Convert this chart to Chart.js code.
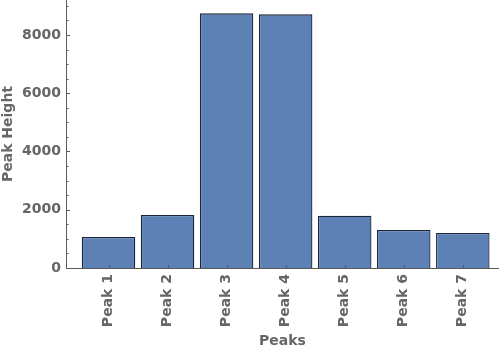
<!DOCTYPE html>
<html>
<head>
<meta charset="utf-8">
<script src="https://cdn.jsdelivr.net/npm/chart.js@4/dist/chart.umd.min.js"></script>
<style>
    html, body { margin: 0; padding: 0; background: #fff; }
    #wrap { width: 500px; height: 351px; }
</style>
</head>
<body>
<div id="wrap"><canvas id="peak-chart"></canvas></div>
<script>
var categories = ["Peak 1", "Peak 2", "Peak 3", "Peak 4", "Peak 5", "Peak 6", "Peak 7"];
var peakHeights = [1063, 1817, 8742, 8708, 1793, 1303, 1200];
var yMajorTicks = [0, 2000, 4000, 6000, 8000];
var yMinorStep = 500;

var axisColor = "#5a5a5a";
var textColor = "#666666";

// inward tick marks, drawn from the scales
var tickPlugin = {
    id: 'inwardTicks',
    afterDatasetsDraw: function (chart) {
        var ctx = chart.ctx;
        var y = chart.scales.y;
        var x = chart.scales.x;
        var area = chart.chartArea;
        ctx.save();
        ctx.strokeStyle = axisColor;
        ctx.lineWidth = 1;
        ctx.beginPath();
        for (var v = 0; v <= y.max; v += yMinorStep) {
            var py = Math.round(y.getPixelForValue(v)) + 0.5;
            var len = (yMajorTicks.indexOf(v) >= 0) ? 4 : 2.5;
            ctx.moveTo(area.left, py);
            ctx.lineTo(area.left + len, py);
        }
        for (var i = 0; i < categories.length; i++) {
            var px = Math.round(x.getPixelForValue(i + 1)) + 0.5;
            ctx.moveTo(px, area.bottom);
            ctx.lineTo(px, area.bottom - 3);
        }
        ctx.stroke();
        // axes
        ctx.beginPath();
        ctx.moveTo(area.left + 0.5, area.top);
        ctx.lineTo(area.left + 0.5, area.bottom + 0.5);
        ctx.lineTo(area.right, area.bottom + 0.5);
        ctx.stroke();
        ctx.restore();
    }
};

var points = peakHeights.map(function (val, i) {
    return { x: i + 1, y: val };
});

var ctx = document.getElementById("peak-chart").getContext('2d');
var chart = new Chart(ctx, {
    type: 'bar',
    data: {
        datasets: [{
            data: points,
            backgroundColor: "#5d81b5",
            borderColor: "#1b263a",
            borderWidth: 1.3,
            categoryPercentage: 1,
            barPercentage: 0.906
        }]
    },
    options: {
        responsive: true,
        maintainAspectRatio: false,
        animation: false,
        layout: { padding: { top: 0, right: 1, left: 0, bottom: 0 } },
        plugins: {
            legend: { display: false },
            tooltip: { enabled: false }
        },
        scales: {
            x: {
                type: 'linear',
                min: 0.28,
                max: 7.613,
                offset: false,
                grid: { display: false, drawTicks: false },
                border: { display: false },
                afterBuildTicks: function (scale) {
                    scale.ticks = categories.map(function (c, i) { return { value: i + 1 }; });
                },
                afterFit: function (scale) {
                    scale.height = 83;
                    scale.paddingLeft = 0;
                    scale.paddingRight = 0;
                },
                ticks: {
                    autoSkip: false,
                    maxRotation: 90,
                    minRotation: 90,
                    padding: 6,
                    color: textColor,
                    font: { family: "DejaVu Sans", size: 14, weight: 'bold' },
                    callback: function (value) { return categories[value - 1]; }
                },
                title: {
                    display: true,
                    text: "Peaks",
                    color: textColor,
                    padding: { top: 0, bottom: 1 },
                    font: { family: "DejaVu Sans", size: 14, weight: 'bold' }
                }
            },
            y: {
                min: 0,
                max: 9200,
                grid: { display: false, drawTicks: false },
                border: { display: false },
                afterBuildTicks: function (scale) {
                    scale.ticks = yMajorTicks.map(function (v) { return { value: v }; });
                },
                afterFit: function (scale) {
                    scale.width = 66;
                    scale.paddingTop = 0;
                    scale.paddingBottom = 0;
                },
                ticks: {
                    padding: 5,
                    color: textColor,
                    font: { family: "DejaVu Sans", size: 14, weight: 'bold' },
                    callback: function (value) { return String(value); }
                },
                title: {
                    display: true,
                    text: "Peak Height",
                    color: textColor,
                    padding: { top: 0, bottom: 0 },
                    font: { family: "DejaVu Sans", size: 14, weight: 'bold' }
                }
            }
        }
    },
    plugins: [tickPlugin]
});
</script>
</body>
</html>
